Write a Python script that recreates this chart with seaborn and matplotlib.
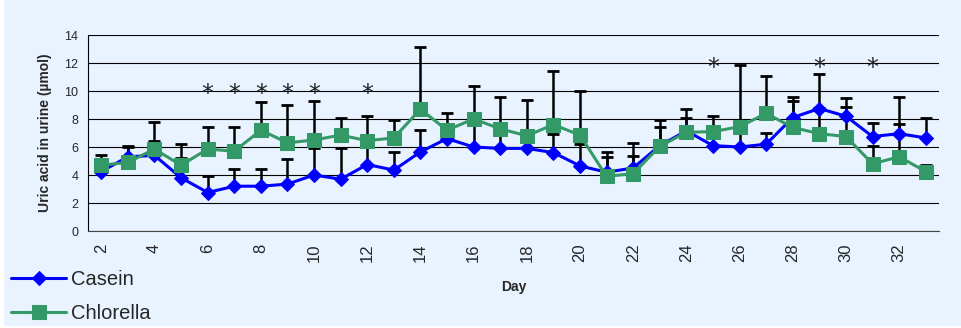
import numpy as np
import pandas as pd
import matplotlib
matplotlib.use("Agg")
import matplotlib.pyplot as plt
import seaborn as sns
from matplotlib.patches import Rectangle
from matplotlib.ticker import FixedLocator

# ---------------- data ----------------
days = list(range(2, 34))
casein = [4.25, 5.3, 5.4, 3.8, 2.75, 3.2, 3.2, 3.35, 4.0, 3.7, 4.75, 4.35, 5.65, 6.6, 6.0, 5.9,
          5.9, 5.6, 4.65, 4.2, 4.5, 6.1, 7.15, 6.1, 6.0, 6.2, 8.1, 8.75, 8.2, 6.75, 6.95, 6.65]
casein_err = [0.75, 0.7, 1.0, 1.45, 1.15, 1.2, 1.2, 1.8, 1.9, 2.2, 1.7, 1.3, 1.6, 0.6, 1.8, 1.4,
              1.0, 1.3, 1.55, 1.1, 0.85, 1.3, 0.95, 0.9, 1.0, 0.8, 1.5, 2.45, 1.3, 0.95, 2.6, 1.45]
chlorella = [4.7, 4.9, 5.85, 4.7, 5.85, 5.7, 7.2, 6.3, 6.5, 6.85, 6.45, 6.65, 8.7, 7.2, 8.0, 7.3,
             6.8, 7.6, 6.85, 3.9, 4.1, 6.05, 7.05, 7.1, 7.45, 8.4, 7.4, 6.95, 6.75, 4.8, 5.3, 4.25]
chlorella_err = [0.7, 1.2, 1.95, 1.5, 1.6, 1.7, 2.05, 2.7, 2.8, 1.2, 1.75, 1.3, 4.45, 1.2, 2.35, 2.3,
                 2.55, 3.8, 3.15, 1.75, 2.2, 1.9, 1.65, 1.1, 4.4, 2.65, 1.9, 1.85, 2.1, 1.3, 2.35, 0.5]
star_days = [6, 7, 8, 9, 10, 12, 25, 29, 31]
star_levels = [10.2, 10.2, 10.2, 10.2, 10.2, 10.2, 12.1, 12.1, 12.1]
x_tick_days = [2, 4, 6, 8, 10, 12, 14, 16, 18, 20, 22, 24, 26, 28, 30, 32]
y_ticks = [0, 2, 4, 6, 8, 10, 12, 14]
series_names = ["Casein", "Chlorella"]

BG = "#E8F3FF"
BLUE = "#0000FF"
GREEN = "#339966"

sns.set_style("white")
plt.rcParams["font.family"] = ["Liberation Sans", "DejaVu Sans"]

fig = plt.figure(figsize=(9.62, 3.28), dpi=100)
fig.patch.set_facecolor("white")
fig.add_artist(Rectangle((4 / 962, 2 / 328), 1, 1, transform=fig.transFigure,
                         facecolor=BG, edgecolor="none", zorder=-10))
ax = fig.add_axes([88 / 962, 1 - 231 / 328, (939 - 88) / 962, (231 - 35) / 328])
ax.set_facecolor(BG)

df = pd.DataFrame({
    "Day": days + days,
    "value": casein + chlorella,
    "err": casein_err + chlorella_err,
    "Diet": [series_names[0]] * len(days) + [series_names[1]] * len(days),
})

# error bars (one-sided, upward)
for name in series_names:
    sub = df[df["Diet"] == name]
    ax.errorbar(sub["Day"], sub["value"], yerr=[np.zeros(len(sub)), sub["err"]],
                fmt="none", ecolor="black", elinewidth=1.8, capsize=4.4, capthick=2.0, zorder=2)

sns.lineplot(data=df[df["Diet"] == "Casein"], x="Day", y="value", ax=ax,
             color=BLUE, marker="D", markersize=7.2, markeredgecolor=BLUE,
             linewidth=2.2, errorbar=None, label="Casein", zorder=3)
sns.lineplot(data=df[df["Diet"] == "Chlorella"], x="Day", y="value", ax=ax,
             color=GREEN, marker="s", markersize=10, markeredgecolor=GREEN,
             linewidth=2.2, errorbar=None, label="Chlorella", zorder=4)

for d, lv in zip(star_days, star_levels):
    ax.annotate("*", xy=(d, lv), xytext=(0, -4.5), textcoords="offset points",
                ha="center", va="center", fontsize=17, color="#222222",
                family=["DejaVu Sans"], zorder=5)

ax.set_xlim(1.5, 33.5)
ax.set_ylim(0, 14)
ax.set_yticks(y_ticks)
ax.yaxis.grid(True, color="black", linewidth=0.8)
ax.xaxis.grid(False)
ax.set_axisbelow(True)

ax.xaxis.set_major_locator(FixedLocator(x_tick_days))
ax.set_xticklabels([str(d) for d in x_tick_days], rotation=90)
ax.xaxis.set_minor_locator(FixedLocator([d - 0.5 for d in days] + [days[-1] + 0.5]))
ax.tick_params(axis="x", which="major", length=0, labelsize=12, pad=9)
ax.tick_params(axis="x", which="minor", length=5, width=0.8, color="#333333", direction="out")
ax.tick_params(axis="y", which="major", length=5, width=0.8, color="black",
               direction="out", labelsize=9, pad=2)

for s in ["top", "right"]:
    ax.spines[s].set_visible(False)
ax.spines["left"].set_color("black")
ax.spines["left"].set_linewidth(0.8)
ax.spines["bottom"].set_color("#444444")
ax.spines["bottom"].set_linewidth(0.8)

ax.set_xlabel("Day", fontsize=10, fontweight="bold", labelpad=13)
ax.set_ylabel("Uric acid in urine (µmol)", fontsize=10, fontweight="bold", labelpad=9)

handles, labels = ax.get_legend_handles_labels()
order = [labels.index("Casein"), labels.index("Chlorella")]
ax.get_legend().remove()
fig.legend([handles[i] for i in order], [labels[i] for i in order],
           loc="upper left", bbox_to_anchor=(11 / 962, 0.177), frameon=False,
           fontsize=14.5, handlelength=2.75, handletextpad=0.25, borderpad=0,
           borderaxespad=0, labelspacing=0.75, numpoints=1)

fig.savefig("out.png", dpi=100, facecolor=fig.get_facecolor())
